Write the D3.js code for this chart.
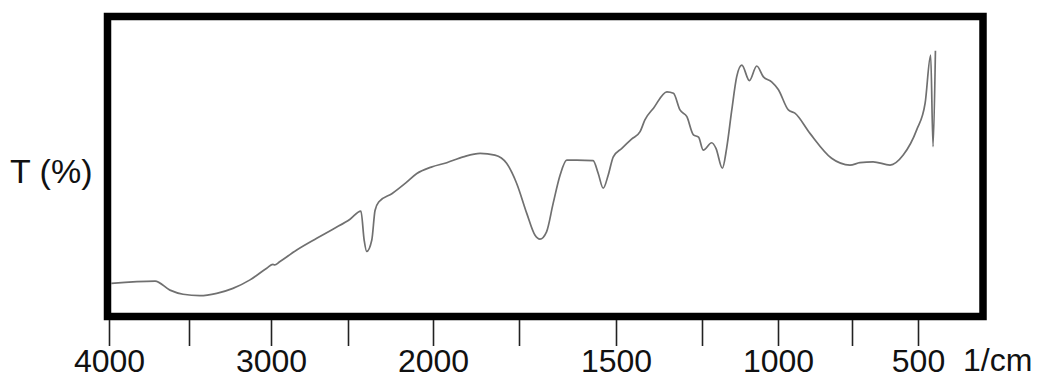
<!DOCTYPE html>
<html>
<head>
<meta charset="utf-8">
<script src="https://cdn.jsdelivr.net/npm/d3@7"></script>
<style>
  body { margin: 0; background: #fff; }
  svg { display: block; font-family: "Liberation Sans", Arial, Helvetica, sans-serif; }
</style>
</head>
<body>
<svg id="chart" width="1041" height="378"></svg>
<script>
// wavenumber (1/cm) and transmittance (%)
const wavenumber = [3985, 3712, 3619, 3537, 3433, 3331, 3232, 3128, 3026, 2987, 2976, 2944,
  2833, 2703, 2595, 2488, 2424, 2405, 2390, 2360, 2341, 2318, 2240, 2160, 2095, 2010,
  1960, 1912, 1863, 1820, 1786, 1757, 1730, 1709, 1696, 1679, 1662, 1644, 1627, 1601,
  1559, 1546, 1533, 1520, 1507, 1483, 1454, 1430, 1416, 1391, 1352, 1333, 1314, 1294,
  1275, 1260, 1246, 1218, 1204, 1183, 1169, 1152, 1136, 1119, 1094, 1070, 1048, 1021,
  999, 965, 943, 892, 819, 757, 720, 670, 606, 556, 505, 473, 452, 443, 434];
const transmittance = [10.1, 10.9, 7.8, 6.4, 5.9, 6.7, 8.4, 11.3, 15.3, 16.6, 16.4, 17.5,
  21.5, 25.5, 28.7, 32.0, 34.8, 24.9, 21.0, 24.9, 35.0, 38.0, 40.8, 44.4, 47.6, 49.8,
  51.3, 53.3, 54.5, 53.9, 51.1, 44.3, 34.0, 26.6, 25.2, 27.7, 37.4, 47.1, 52.2, 52.2,
  52.0, 47.7, 42.6, 47.1, 53.3, 56.2, 59.4, 61.9, 65.9, 69.9, 75.5, 75.0, 69.3, 67.0,
  60.8, 60.0, 55.6, 58.1, 56.2, 49.4, 56.2, 69.3, 80.6, 84.6, 79.3, 84.3, 80.6, 78.9,
  76.3, 69.3, 68.2, 61.3, 52.8, 50.5, 51.3, 51.6, 50.5, 53.9, 62.5, 71.6, 88.0, 56.8, 89.5];

const allTicks = [4000, 3500, 3000, 2500, 2000, 1750, 1500, 1250, 1000, 750, 500];
const labelTicks = [4000, 3000, 2000, 1500, 1000, 500];
const xUnit = "1/cm";
const yTitle = "T (%)";

const svg = d3.select("#chart");

// instrument chart paper: compressed scale above 2000, uneven tick spacing
const x = d3.scaleLinear()
  .domain(allTicks)
  .range([109, 189, 271, 348, 433, 519, 616, 702, 778, 852, 918]);
const y = d3.scaleLinear().domain([0, 100]).range([313, 20]);

const line = d3.line()
  .x((d, i) => x(wavenumber[i]))
  .y(d => y(d))
  .curve(d3.curveMonotoneX);

svg.append("path")
  .datum(transmittance)
  .attr("d", line)
  .attr("fill", "none")
  .attr("stroke", "#707070")
  .attr("stroke-width", 1.7)
  .attr("stroke-linejoin", "round");

// heavy frame
svg.append("rect")
  .attr("x", 107.5).attr("y", 16.5)
  .attr("width", 875.5).attr("height", 300)
  .attr("fill", "none")
  .attr("stroke", "#000")
  .attr("stroke-width", 7.5);

const axis = svg.append("g")
  .attr("transform", "translate(0,320)")
  .call(d3.axisBottom(x)
    .tickValues(allTicks)
    .tickSize(26)
    .tickPadding(3)
    .tickFormat(d => labelTicks.includes(d) ? d : ""));
axis.select(".domain").remove();
axis.selectAll(".tick line").attr("stroke", "#222").attr("stroke-width", 1.6);
axis.selectAll(".tick text")
  .attr("fill", "#111")
  .style("font-size", "32px")
  .style("font-family", "'Liberation Sans', Arial, sans-serif");

svg.append("text")
  .attr("x", 963).attr("y", 371)
  .attr("fill", "#111")
  .style("font-size", "32px")
  .text(xUnit);

svg.append("text")
  .attr("x", 10).attr("y", 183)
  .attr("fill", "#111")
  .style("font-size", "34px")
  .text(yTitle);
</script>
</body>
</html>
